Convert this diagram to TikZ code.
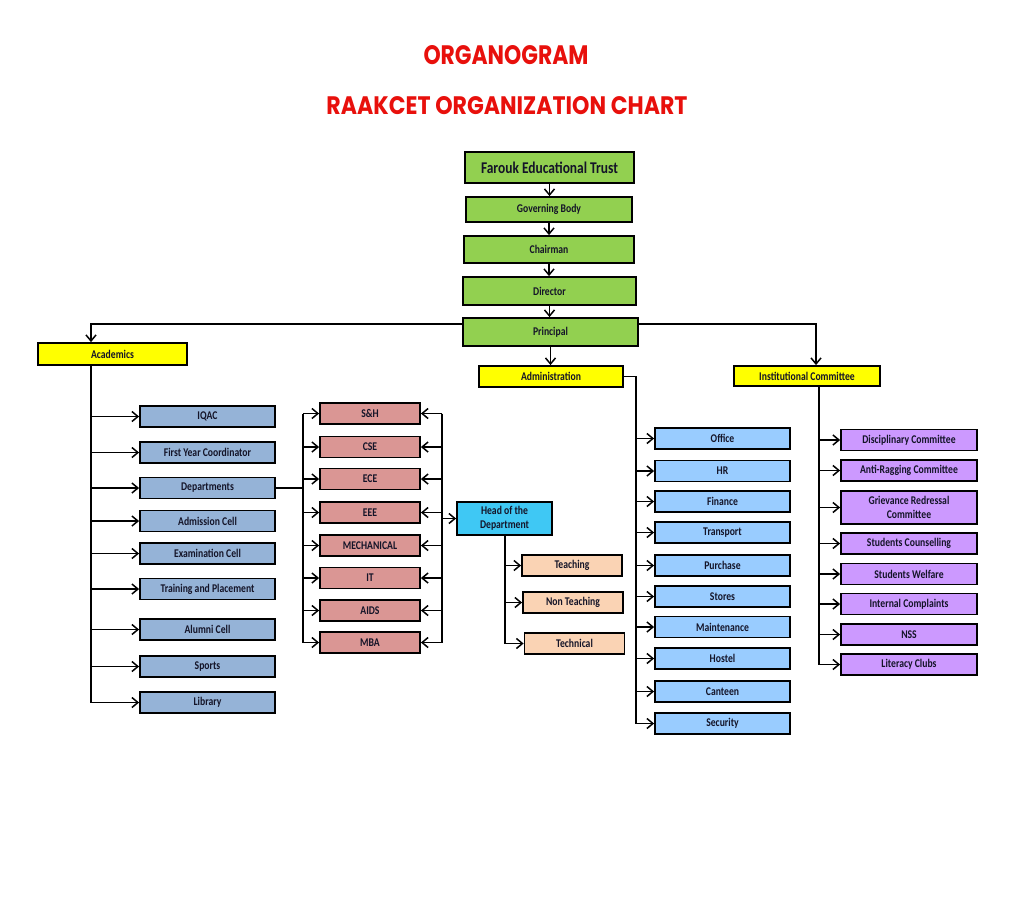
\documentclass[tikz,border=0pt]{standalone}
\usepackage{fontspec}
\setmainfont{Carlito}[FakeStretch=0.82]
\newfontfamily\titlefont{Poppins}
\usepackage{graphicx}
\usetikzlibrary{arrows.meta}
\definecolor{grn}{HTML}{92D050}
\definecolor{yel}{HTML}{FFFF00}
\definecolor{acol}{HTML}{95B3D7}
\definecolor{dcol}{HTML}{DA9694}
\definecolor{hcol}{HTML}{3FC8F4}
\definecolor{pcol}{HTML}{FAD3B4}
\definecolor{bcol}{HTML}{99CCFF}
\definecolor{vcol}{HTML}{CC99FF}
\definecolor{ttl}{HTML}{E8100C}
\definecolor{txt}{HTML}{141428}
\tikzset{
  box/.style={draw=black, line width=1.8pt, inner sep=0pt, outer sep=0.9pt,
    font=\bfseries\fontsize{11.8}{13}\selectfont, text=txt, align=center},
  gbox/.style={box, fill=grn},
  ybox/.style={box, fill=yel, minimum height=21pt},
  abox/.style={box, fill=acol, minimum width=135pt, minimum height=21pt},
  dbox/.style={box, fill=dcol, minimum width=100pt, minimum height=21pt},
  hbox/.style={box, fill=hcol},
  pbox/.style={box, fill=pcol, minimum width=100pt, minimum height=21pt},
  bbox/.style={box, fill=bcol, minimum width=135pt, minimum height=21pt},
  vbox/.style={box, fill=vcol, minimum width=136pt, minimum height=21pt},
  ln/.style={line width=1.4pt},
  arr/.style={line width=1.4pt, -{Straight Barb[length=6pt,width=10pt,line width=1.5pt]}},
  ttlnode/.style={inner sep=0pt, text=ttl},
}
\begin{document}
\begin{tikzpicture}[x=1pt,y=-1pt]
\fill[white] (0,0) rectangle (1030,908);
\useasboundingbox (0,0) rectangle (1030,908);

% titles
\node[ttlnode] (t1) at (506,55) {\resizebox{165pt}{19pt}{\titlefont\bfseries ORGANOGRAM}};
\node[ttlnode] (t2) at (507,106) {\resizebox{361pt}{18pt}{\titlefont\bfseries RAAKCET ORGANIZATION CHART}};

% top chain
\node[gbox, minimum width=169pt, minimum height=31pt, font=\bfseries\fontsize{16.4}{18}\selectfont] (trust) at (549.5,167.5) {Farouk Educational Trust};
\node[gbox, minimum width=166pt, minimum height=25pt] (gov) at (549,209.5) {Governing Body};
\node[gbox, minimum width=170pt, minimum height=27pt] (chair) at (549,249.5) {Chairman};
\node[gbox, minimum width=173pt, minimum height=28pt] (dir) at (549.5,291) {Director};
\node[gbox, minimum width=175pt, minimum height=28pt] (princ) at (550.5,332) {Principal};

\draw[arr] (trust.south) -- (gov.north -| trust.south);
\draw[arr] (gov.south) -- (chair.north -| gov.south);
\draw[arr] (chair.south) -- (dir.north -| chair.south);
\draw[arr] (dir.south) -- (princ.north -| dir.south);

% second level
\node[ybox, minimum width=149pt, minimum height=22pt] (acad) at (112.5,354) {Academics};
\node[ybox, minimum width=144pt] (admin) at (551,376.5) {Administration};
\node[ybox, minimum width=146pt, minimum height=20pt] (inst) at (807,376) {Institutional Committee};

\coordinate (yP) at (0,324);
\coordinate (xA) at (91,0);
\coordinate (xI) at (816,0);
\draw[arr] (princ.west |- yP) -| (acad.north -| xA);
\draw[arr] (princ.east |- yP) -| (inst.north -| xI);
\draw[arr] (princ.south) -- (admin.north -| princ.south);

% academics column
\node[abox] (iqac) at (207.5,416.5) {IQAC};
\node[abox] (fyc) at (207.5,452.5) {First Year Coordinator};
\node[abox] (dep) at (207.5,488) {Departments};
\node[abox] (adm) at (207.5,521) {Admission Cell};
\node[abox] (exam) at (207.5,553.5) {Examination Cell};
\node[abox] (tnp) at (207.5,589) {Training and Placement};
\node[abox] (alum) at (207.5,629.5) {Alumni Cell};
\node[abox] (sport) at (207.5,666.5) {Sports};
\node[abox] (lib) at (207.5,702.5) {Library};

\draw[ln] (acad.south -| xA) -- (lib.west -| xA);
\foreach \n in {iqac,fyc,dep,adm,exam,tnp,alum,sport,lib}
  \draw[arr] (\n.west -| xA) -- (\n.west);

% departments
\node[dbox] (sh) at (370,413.5) {S\&H};
\node[dbox] (cse) at (370,447) {CSE};
\node[dbox] (ece) at (370,479) {ECE};
\node[dbox] (eee) at (370,512.5) {EEE};
\node[dbox] (mech) at (370,545.5) {MECHANICAL};
\node[dbox] (it) at (370,578) {IT};
\node[dbox] (aids) at (370,610.5) {AIDS};
\node[dbox] (mba) at (370,642.5) {MBA};

\coordinate (xD) at (303,0);
\coordinate (xR) at (442,0);
\draw[ln] (dep.east) -- (dep.east -| xD);
\draw[ln] (sh.west -| xD) -- (mba.west -| xD);
\draw[ln] (sh.east -| xR) -- (mba.east -| xR);
\foreach \n in {sh,cse,ece,eee,mech,it,aids,mba}{
  \draw[arr] (\n.west -| xD) -- (\n.west);
  \draw[arr] (\n.east -| xR) -- (\n.east);
}

% head of department
\node[hbox, minimum width=95pt, minimum height=33pt, font=\bfseries\fontsize{11.8}{14}\selectfont] (hod) at (504.5,518.5) {Head of the\\Department};
\draw[arr] (hod.west -| xR) -- (hod.west);

\node[pbox] (teach) at (572,565.5) {Teaching};
\node[pbox] (nont) at (573,602.5) {Non Teaching};
\node[pbox] (tech) at (574.5,643.5) {Technical};
\coordinate (xH) at (505,0);
\draw[ln] (hod.south -| xH) -- (tech.west -| xH);
\foreach \n in {teach,nont,tech}
  \draw[arr] (\n.west -| xH) -- (\n.west);

% administration column
\node[bbox] (office) at (722.5,438.5) {Office};
\node[bbox] (hr) at (722.5,471) {HR};
\node[bbox] (fin) at (722.5,501.5) {Finance};
\node[bbox] (trans) at (722.5,532.5) {Transport};
\node[bbox] (pur) at (722.5,565.5) {Purchase};
\node[bbox] (stor) at (722.5,596.5) {Stores};
\node[bbox] (maint) at (722.5,627) {Maintenance};
\node[bbox] (host) at (722.5,658.5) {Hostel};
\node[bbox] (cant) at (722.5,691.5) {Canteen};
\node[bbox] (sec) at (722.5,723.5) {Security};

\coordinate (xAd) at (636,0);
\draw[ln] (admin.east) -| (sec.west -| xAd);
\foreach \n in {office,hr,fin,trans,pur,stor,maint,host,cant,sec}
  \draw[arr] (\n.west -| xAd) -- (\n.west);

% institutional committee column
\node[vbox] (disc) at (909,440) {Disciplinary Committee};
\node[vbox] (anti) at (909,470.5) {Anti-Ragging Committee};
\node[vbox, minimum height=33pt, font=\bfseries\fontsize{11.8}{14}\selectfont] (griev) at (909,507.5) {Grievance Redressal\\Committee};
\node[vbox] (couns) at (909,543.5) {Students Counselling};
\node[vbox] (welf) at (909,574) {Students Welfare};
\node[vbox] (icc) at (909,604) {Internal Complaints};
\node[vbox] (nss) at (909,634.5) {NSS};
\node[vbox] (lit) at (909,664.5) {Literacy Clubs};

\coordinate (xIt) at (819,0);
\draw[ln] (inst.south -| xIt) -- (lit.west -| xIt);
\foreach \n in {disc,anti,griev,couns,welf,icc,nss,lit}
  \draw[arr] (\n.west -| xIt) -- (\n.west);
\end{tikzpicture}
\end{document}
